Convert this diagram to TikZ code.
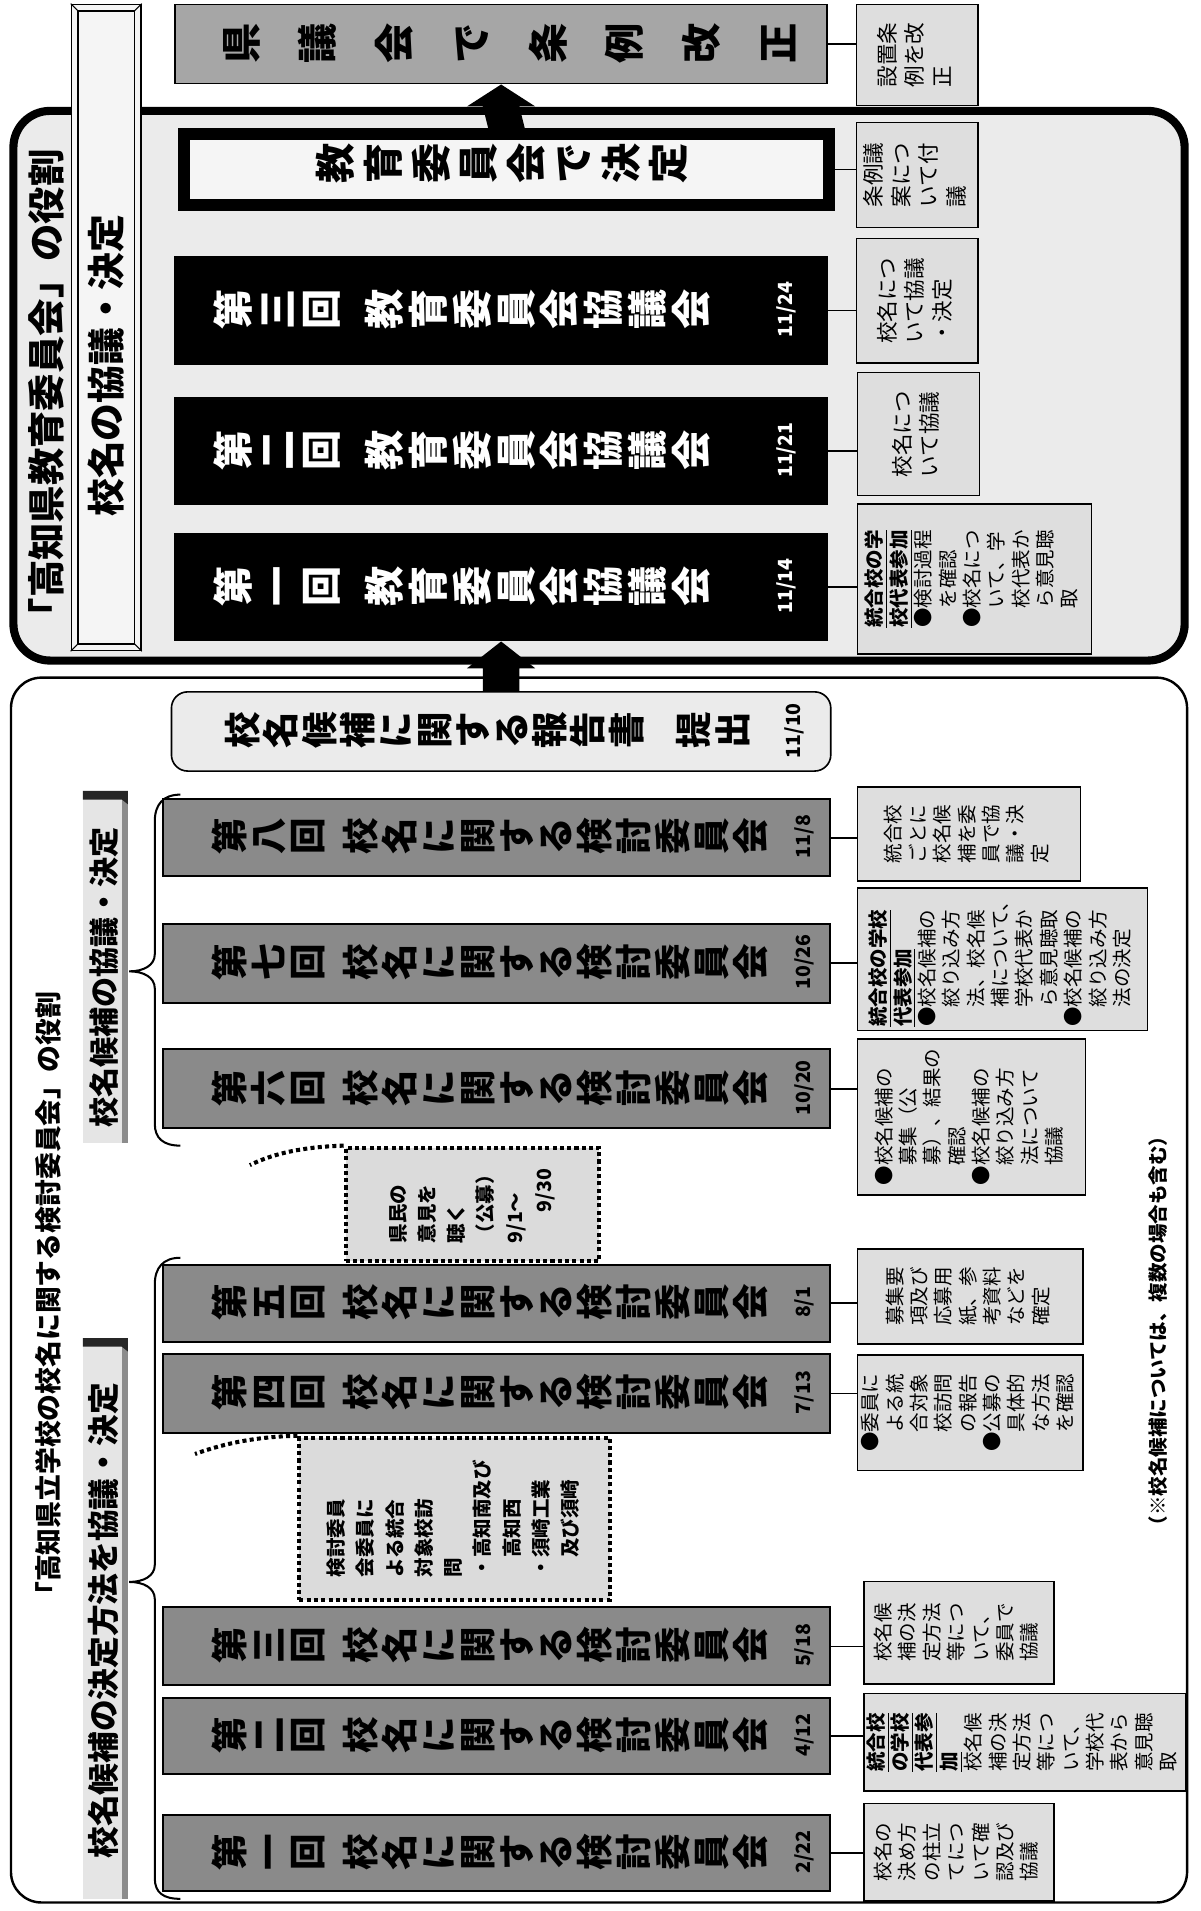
\documentclass[tikz,border=0pt]{standalone}
\usepackage{fontspec}
\usepackage{graphicx}
\setmainfont{Noto Sans CJK JP}
\usetikzlibrary{calc}

\newcommand\nfnt{\fontsize{9.6}{12}\selectfont}
\newcommand\ufnt{\fontsize{10.6}{13.6}\selectfont}
\newcommand\dfnt{\bfseries\fontsize{9.6}{14.4}\selectfont}
\newcommand\ntab[1]{\rotatebox{90}{\nfnt\begin{tabular}{@{}l@{}}#1\end{tabular}}}
\newcommand\utab[1]{\rotatebox{90}{\ufnt\begin{tabular}{@{}l@{}}#1\end{tabular}}}
\newcommand\dtab[1]{\rotatebox{90}{\dfnt\begin{tabular}{@{}l@{}}#1\end{tabular}}}
\newcommand\ind{\phantom{●}}
\newcommand\bu[1]{\textbf{\underline{#1}}}
\newcommand\kentou[1]{第\\#1\\回\\[7.2pt]校\\名\\に\\関\\す\\る\\検\\討\\委\\員\\会}
\newcommand\kyougi[1]{第\\#1\\回\\[9.6pt]教\\育\\委\\員\\会\\協\\議\\会}

\tikzset{
 bx/.style 2 args={draw, anchor=north west, inner sep=0pt, line width=0.8pt,
   minimum width=#1*0.6pt, minimum height=#2*0.6pt},
 note/.style={fill=black!13},
 gbox/.style={fill=black!46, line width=1pt},
 kbox/.style={fill=black},
 vtx/.style 2 args={rotate=90, align=center, inner sep=0pt,
   font=\bfseries\fontsize{#1}{#2}\selectfont},
 datelbl/.style={rotate=90, inner sep=0pt, font=\bfseries\fontsize{9.6}{10}\selectfont},
 dotbox/.style={draw, dash pattern=on 2pt off 1.6pt, line width=2pt, fill=black!14},
 dotline/.style={draw, dash pattern=on 2pt off 1.6pt, line width=2pt},
 conn/.style={line width=0.8pt},
 hd/.style={rotate=90, inner sep=0pt},
}

\begin{document}
\begin{tikzpicture}[x=0.6pt,y=-0.6pt]
\useasboundingbox (0,0) rectangle (985,1568);
\fill[white] (0,0) rectangle (985,1568);

% ---------- big frames
\draw[line width=4pt, fill=black!8, rounded corners=18pt] (11,91) rectangle (972,542);
\draw[line width=1.2pt, fill=white, rounded corners=15pt] (9,556) rectangle (974,1561);

% ---------- upper section
\node[hd, font=\bfseries\fontsize{18.4}{20}\selectfont] (ttl1) at (38,322) {「高知県教育委員会」の役割};

\node[bx={57}{530}, fill=black!4] (bev) at (58,3) {};
\draw[line width=0.6pt] ([shift={(3.6pt,3.6pt)}]bev.south west) rectangle ([shift={(-3.6pt,-3.6pt)}]bev.north east);
\draw[line width=0.5pt] (bev.south west) -- ++(3.6pt,3.6pt) (bev.north west) -- ++(3.6pt,-3.6pt)
  (bev.south east) -- ++(-3.6pt,3.6pt) (bev.north east) -- ++(-3.6pt,-3.6pt);
\node[hd, font=\bfseries\fontsize{18.6}{20}\selectfont] (bevt) at (87,300) {校名の協議・決定};

\node[bx={535}{65}, fill=black!35] (top) at (143,3) {};
\node[vtx={19.8}{37.8}] (topt) at (418,35.5) {県\\議\\会\\で\\条\\例\\改\\正};

\node[bx={529}{58}, line width=6pt, fill=black!4] (kettei) at (146,105) {};
\node[vtx={19.8}{23.4}] (ketteit) at (412,134) {教\\育\\委\\員\\会\\で\\決\\定};

\node[bx={535}{88}, kbox] (b3) at (143,210) {};
\node[vtx={19.8}{21.6}, text=white] (b3t) at (379,254) {\kyougi{三}};
\node[datelbl, text=white] (b3d) at (645,254) {11/24};
\node[bx={535}{87}, kbox] (b2) at (143,326) {};
\node[vtx={19.8}{21.6}, text=white] (b2t) at (379,369.5) {\kyougi{二}};
\node[datelbl, text=white] (b2d) at (645,369.5) {11/21};
\node[bx={535}{88}, kbox] (b1) at (143,437) {};
\node[vtx={19.8}{21.6}, text=white] (b1t) at (379,481) {\kyougi{一}};
\node[datelbl, text=white] (b1d) at (645,481) {11/14};

% upper notes
\node[bx={100}{83}, note] (nA) at (702,3) {\utab{設置条\\例を改\\正}};
\node[bx={100}{86}, note] (nB) at (702,100) {\utab{条例議\\案につ\\いて付\\議}};
\node[bx={100}{102}, note] (nC) at (702,195) {\utab{校名につ\\いて協議\\・決定}};
\node[bx={100}{101}, note] (nD) at (703,305) {\utab{校名につ\\いて協議}};
\node[bx={192}{123}, note] (nE) at (703,413) {\ntab{\bu{統合校の学}\\\bu{校代表参加}\\●検討過程\\\ind を確認\\●校名につ\\\ind いて、学\\\ind 校代表か\\\ind ら意見聴\\\ind 取}};

\draw[conn] (top.east) -- (top.east -| nA.west);
\draw[conn] (kettei.east) -- (kettei.east -| nB.west);
\draw[conn] (b3.east) -- (b3.east -| nC.west);
\draw[conn] (b2.east) -- (b2.east -| nD.west);
\draw[conn] (b1.east) -- (b1.east -| nE.west);

% ---------- lower section
\node[hd, font=\bfseries\fontsize{13.2}{14}\selectfont] (ttl2) at (40,1067) {「高知県立学校の校名に関する検討委員会」の役割};

\fill[black!10] (68,649) rectangle (100,938);
\fill[black!45] (100,649) rectangle (105,938);
\fill[black!85] (68,649) -- (105,649) -- (105,660) -- (100,656) -- (68,656) -- cycle;
\node[hd, font=\bfseries\fontsize{14.8}{16}\selectfont] (s1) at (85,802) {校名候補の協議・決定};
\fill[black!10] (68,1098) rectangle (100,1558);
\fill[black!45] (100,1098) rectangle (105,1558);
\fill[black!85] (68,1098) -- (105,1098) -- (105,1109) -- (100,1105) -- (68,1105) -- cycle;
\node[hd, font=\bfseries\fontsize{15.6}{17}\selectfont] (s2) at (85,1330) {校名候補の決定方法を協議・決定};

\draw[line width=1pt] (148,652) .. controls (134,652) and (127,660) .. (127,674) -- (127,783)
  .. controls (127,792) and (118,797) .. (106,797) .. controls (118,797) and (127,802) .. (127,811)
  -- (127,922) .. controls (127,934) and (134,940) .. (148,940);
\draw[line width=1pt] (148,1032) .. controls (134,1032) and (127,1040) .. (127,1054) -- (127,1284)
  .. controls (127,1293) and (118,1298) .. (106,1298) .. controls (118,1298) and (127,1303) .. (127,1312)
  -- (127,1541) .. controls (127,1553) and (134,1558) .. (148,1558);

\node[bx={541}{65}, fill=black!8, rounded corners=8pt] (rep) at (140,567) {};
\node[vtx={18}{18.9}] (rept) at (400,599.5) {校\\名\\候\\補\\に\\関\\す\\る\\報\\告\\書\\[14.4pt]提\\出};
\node[datelbl] (repd) at (652,599.5) {11/10};

\node[bx={547}{63}, gbox] (g8) at (133,655) {};
\node[vtx={18}{19.2}] (g8t) at (402,686.5) {\kentou{八}};
\node[datelbl] (g8d) at (660,686.5) {11/8};
\node[bx={547}{65}, gbox] (g7) at (133,757) {};
\node[vtx={18}{19.2}] (g7t) at (402,789.5) {\kentou{七}};
\node[datelbl] (g7d) at (660,789.5) {10/26};
\node[bx={547}{65}, gbox] (g6) at (133,860) {};
\node[vtx={18}{19.2}] (g6t) at (402,892.5) {\kentou{六}};
\node[datelbl] (g6d) at (660,892.5) {10/20};
\node[bx={547}{63}, gbox] (g5) at (133,1037) {};
\node[vtx={18}{19.2}] (g5t) at (402,1068.5) {\kentou{五}};
\node[datelbl] (g5d) at (660,1068.5) {8/1};
\node[bx={547}{65}, gbox] (g4) at (133,1110) {};
\node[vtx={18}{19.2}] (g4t) at (402,1142.5) {\kentou{四}};
\node[datelbl] (g4d) at (660,1142.5) {7/13};
\node[bx={547}{64}, gbox] (g3) at (133,1318) {};
\node[vtx={18}{19.2}] (g3t) at (402,1350) {\kentou{三}};
\node[datelbl] (g3d) at (660,1350) {5/18};
\node[bx={547}{63}, gbox] (g2) at (133,1392) {};
\node[vtx={18}{19.2}] (g2t) at (402,1423.5) {\kentou{二}};
\node[datelbl] (g2d) at (660,1423.5) {4/12};
\node[bx={547}{63}, gbox] (g1) at (133,1488) {};
\node[vtx={18}{19.2}] (g1t) at (402,1519.5) {\kentou{一}};
\node[datelbl] (g1d) at (660,1519.5) {2/22};

% dotted boxes
\node[bx={208}{93}, dotbox] (kobo) at (282,940) {\dtab{県民の\\意見を\\聴く\\（公募）\\9/1〜\\\hspace*{1.6em}9/30}};
\draw[dotline] (kobo.north west) .. controls (250,941) and (225,946) .. (205,956);
\node[bx={255}{133}, dotbox] (visit) at (244,1178) {\dtab{検討委員\\会委員に\\よる統合\\対象校訪\\問\\・高知南及び\\\phantom{・}高知西\\・須崎工業\\\phantom{・}及び須崎}};
\draw[dotline] (visit.north west) .. controls (210,1179) and (185,1184) .. (160,1193);

% lower notes
\node[bx={183}{77}, note] (n8) at (703,645) {\ntab{統合校\\ごとに\\校名候\\補を委\\員で協\\議・決\\定}};
\node[bx={238}{117}, note] (n7) at (703,728) {\ntab{\bu{統合校の学校}\\\bu{代表参加}\\●校名候補の\\\ind 絞り込み方\\\ind 法、校名候\\\ind 補について、\\\ind 学校代表か\\\ind ら意見聴取\\●校名候補の\\\ind 絞り込み方\\\ind 法の決定}};
\node[bx={187}{128}, note] (n6) at (703,852) {\ntab{●校名候補の\\\ind 募集（公\\\ind 募）、結果の\\\ind 確認\\●校名候補の\\\ind 絞り込み方\\\ind 法について\\\ind 協議}};
\node[bx={185}{78}, note] (n5) at (703,1024) {\ntab{募集要\\項及び\\応募用\\紙、参\\考資料\\などを\\確定}};
\node[bx={185}{95}, note] (n4) at (703,1111) {\ntab{●委員に\\\ind よる統\\\ind 合対象\\\ind 校訪問\\\ind の報告\\●公募の\\\ind 具体的\\\ind な方法\\\ind を確認}};
\node[bx={156}{84}, note] (n3) at (708,1297) {\ntab{校名候\\補の決\\定方法\\等につ\\いて、\\委員で\\協議}};
\node[bx={264}{80}, note] (n2) at (708,1389) {\ntab{\bu{統合校}\\\bu{の学校}\\\bu{代表参}\\\bu{加}\\校名候\\補の決\\定方法\\等につ\\いて、\\学校代\\表から\\意見聴\\取}};
\node[bx={156}{80}, note] (n1) at (708,1479) {\ntab{校名の\\決め方\\の柱立\\てにつ\\いて確\\認及び\\協議}};

\draw[conn] (g8.east) -- (g8.east -| n8.west);
\draw[conn] (g7.east) -- (g7.east -| n7.west);
\draw[conn] (g6.east) -- (g6.east -| n6.west);
\draw[conn] (g5.east) -- (g5.east -| n5.west);
\draw[conn] (g4.east) -- (g4.east -| n4.west);
\draw[conn] (g3.east) -- (g3.east -| n3.west);
\draw[conn] (g2.east) -- (g2.east -| n2.west);
\draw[conn] (g1.east) -- (g1.east -| n1.west);

\node[hd, font=\bfseries\fontsize{9.6}{10}\selectfont] (foot) at (950,1092) {（※校名候補については、複数の場合も含む）};

% ---------- arrows
\fill (top.south) -- ($(top.south)+(28,18)$) -- ($(top.south)+(15,18)$) -- ($(kettei.north)+(15,0)$)
  -- ($(kettei.north)+(-15,0)$) -- ($(top.south)+(-15,18)$) -- ($(top.south)+(-28,18)$) -- cycle;
\fill (b1.south) -- ($(b1.south)+(28,22)$) -- ($(b1.south)+(15,22)$) -- ($(rep.north)+(15,0)$)
  -- ($(rep.north)+(-15,0)$) -- ($(b1.south)+(-15,22)$) -- ($(b1.south)+(-28,22)$) -- cycle;
\end{tikzpicture}
\end{document}
